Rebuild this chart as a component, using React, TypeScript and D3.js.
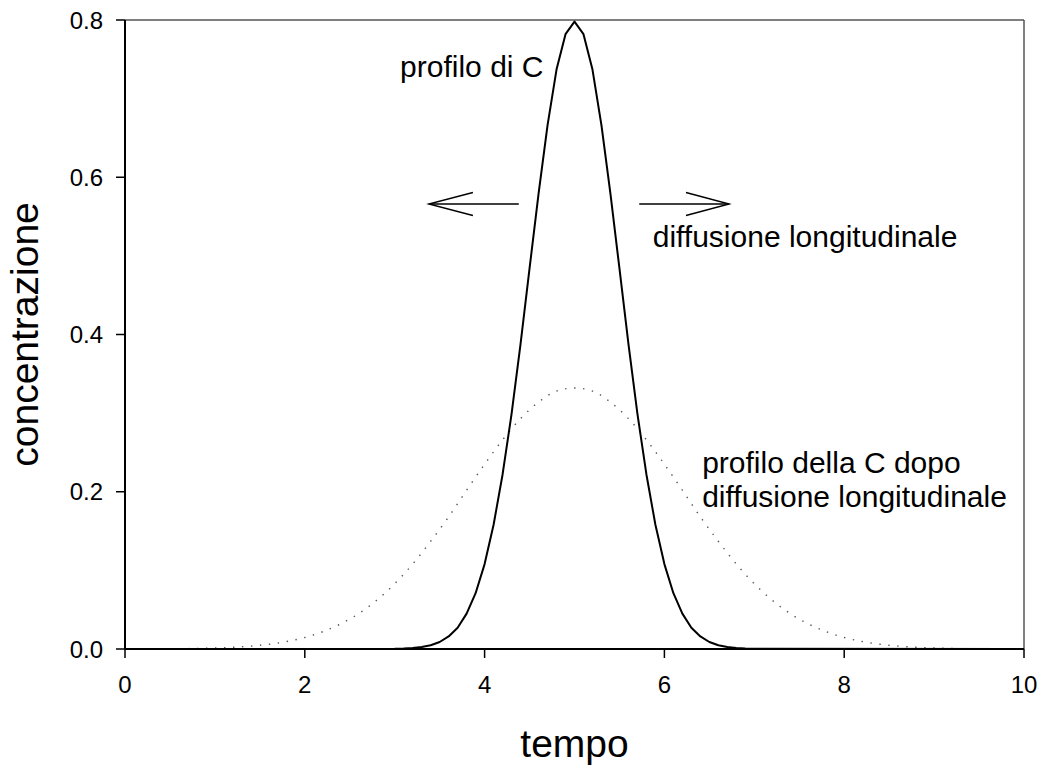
import React from "react";
import * as d3 from "d3";

// ---- data ----
const solidT = [0, 3.0, 3.1, 3.2, 3.3, 3.4, 3.5, 3.6, 3.7, 3.8, 3.9, 4.0, 4.1, 4.2, 4.3, 4.4, 4.5, 4.6, 4.7, 4.8, 4.9, 5.0,
  5.1, 5.2, 5.3, 5.4, 5.5, 5.6, 5.7, 5.8, 5.9, 6.0, 6.1, 6.2, 6.3, 6.4, 6.5, 6.6, 6.7, 6.8, 6.9, 7.0, 10];
const solidC = [0, 0.0003, 0.0006, 0.0012, 0.0025, 0.0048, 0.0089, 0.016, 0.027, 0.045, 0.071, 0.108, 0.158, 0.222, 0.299, 0.388, 0.484, 0.579, 0.666, 0.737, 0.782, 0.798,
  0.782, 0.737, 0.666, 0.579, 0.484, 0.388, 0.299, 0.222, 0.158, 0.108, 0.071, 0.045, 0.027, 0.016, 0.0089, 0.0048, 0.0025, 0.0012, 0.0006, 0.0003, 0];

const dotT = [0, 0.2, 0.4, 0.6, 0.8, 1.0, 1.2, 1.4, 1.6, 1.8, 2.0, 2.2, 2.4, 2.6, 2.8, 3.0, 3.2, 3.4, 3.6, 3.8, 4.0, 4.2, 4.4, 4.6, 4.8, 5.0,
  5.2, 5.4, 5.6, 5.8, 6.0, 6.2, 6.4, 6.6, 6.8, 7.0, 7.2, 7.4, 7.6, 7.8, 8.0, 8.2, 8.4, 8.6, 8.8, 9.0, 9.2, 9.4, 9.6, 9.8, 10];
const dotC = [0.00005, 0.0001, 0.0002, 0.0004, 0.0007, 0.0013, 0.0022, 0.0037, 0.006, 0.0095, 0.0146, 0.022, 0.032, 0.045, 0.062, 0.083, 0.108, 0.137, 0.168, 0.202, 0.235, 0.266, 0.293, 0.314, 0.328, 0.332,
  0.328, 0.314, 0.293, 0.266, 0.235, 0.202, 0.168, 0.137, 0.108, 0.083, 0.062, 0.045, 0.032, 0.022, 0.0146, 0.0095, 0.006, 0.0037, 0.0022, 0.0013, 0.0007, 0.0004, 0.0002, 0.0001, 0.00005];

const xTicks = [0, 2, 4, 6, 8, 10];
const yTicks = [0, 0.2, 0.4, 0.6, 0.8];

const xLabel = "tempo";
const yLabel = "concentrazione";

// annotations: [text, x, y] in data units (left/baseline)
const notes: [string, number, number][] = [
  ["profilo di C", 3.06, 0.7275],
  ["diffusione longitudinale", 5.87, 0.511],
  ["profilo della C dopo", 6.42, 0.224],
  ["diffusione longitudinale", 6.42, 0.181],
];
// arrows: [shaftStart, tip, headBack, y, headHalf]
const arrows: [number, number, number, number, number][] = [
  [4.38, 3.38, 3.87, 0.566, 0.0146],
  [5.72, 6.72, 6.24, 0.566, 0.0146],
];

export default function App() {
  const W = 1042, H = 767;
  const x = d3.scaleLinear().domain([0, 10]).range([125, 1024]);
  const y = d3.scaleLinear().domain([0, 0.8]).range([649, 20]);
  const line = d3.line<number>().x((_, i) => 0).y(() => 0);
  const solidPath = d3.line<[number, number]>().x(d => x(d[0])).y(d => y(d[1]))(solidT.map((t, i) => [t, solidC[i]]));
  const dotPath = d3.line<[number, number]>().x(d => x(d[0])).y(d => y(d[1])).curve(d3.curveMonotoneX)(dotT.map((t, i) => [t, dotC[i]]));
  void line;
  const font = "Liberation Sans, Arial, sans-serif";
  return (
    <svg width={W} height={H} style={{ position: "absolute", left: 0, top: 0, background: "#fff" }} fontFamily={font}>
      <rect x={0} y={0} width={W} height={H} fill="#fff" />
      {/* frame */}
      <line x1={x(0)} x2={x(10)} y1={y(0.8)} y2={y(0.8)} stroke="#555" strokeWidth={1.5} />
      <line x1={x(10)} x2={x(10)} y1={y(0.8)} y2={y(0)} stroke="#555" strokeWidth={1.5} />
      {/* dotted series */}
      <path d={dotPath || ""} fill="none" stroke="#555" strokeWidth={1.4} strokeDasharray="1.4 7.6" />
      {/* solid series */}
      <path d={solidPath || ""} fill="none" stroke="#000" strokeWidth={2} strokeLinejoin="round" />
      {/* axes */}
      <line x1={x(0)} x2={x(0)} y1={y(0.8)} y2={y(0)} stroke="#000" strokeWidth={2} />
      <line x1={x(0)} x2={x(10)} y1={y(0)} y2={y(0)} stroke="#000" strokeWidth={2} />
      {yTicks.map(t => (
        <g key={"y" + t}>
          <line x1={x(0) - 9} x2={x(0)} y1={y(t)} y2={y(t)} stroke="#000" strokeWidth={1.5} />
          <text x={x(0) - 22} y={y(t)} dy="0.36em" textAnchor="end" fontSize={24}>{d3.format(".1f")(t)}</text>
        </g>
      ))}
      {xTicks.map(t => (
        <g key={"x" + t}>
          <line x1={x(t)} x2={x(t)} y1={y(0)} y2={y(0) + 9} stroke="#000" strokeWidth={1.5} />
          <text x={x(t)} y={693} textAnchor="middle" fontSize={24}>{t}</text>
        </g>
      ))}
      <text x={(x(0) + x(10)) / 2} y={757} textAnchor="middle" fontSize={39}>{xLabel}</text>
      <text transform={`translate(38,${(y(0) + y(0.8)) / 2}) rotate(-90)`} textAnchor="middle" fontSize={39}>{yLabel}</text>
      {notes.map(([s, tx, ty], i) => (
        <text key={"n" + i} x={x(tx)} y={y(ty)} fontSize={30}>{s}</text>
      ))}
      {arrows.map(([s, tip, hb, ay, hh], i) => (
        <g key={"a" + i} stroke="#000" strokeWidth={1.4} fill="none">
          <line x1={x(s)} x2={x(tip)} y1={y(ay)} y2={y(ay)} />
          <polyline points={`${x(hb)},${y(ay + hh)} ${x(tip)},${y(ay)} ${x(hb)},${y(ay - hh)}`} />
        </g>
      ))}
    </svg>
  );
}
